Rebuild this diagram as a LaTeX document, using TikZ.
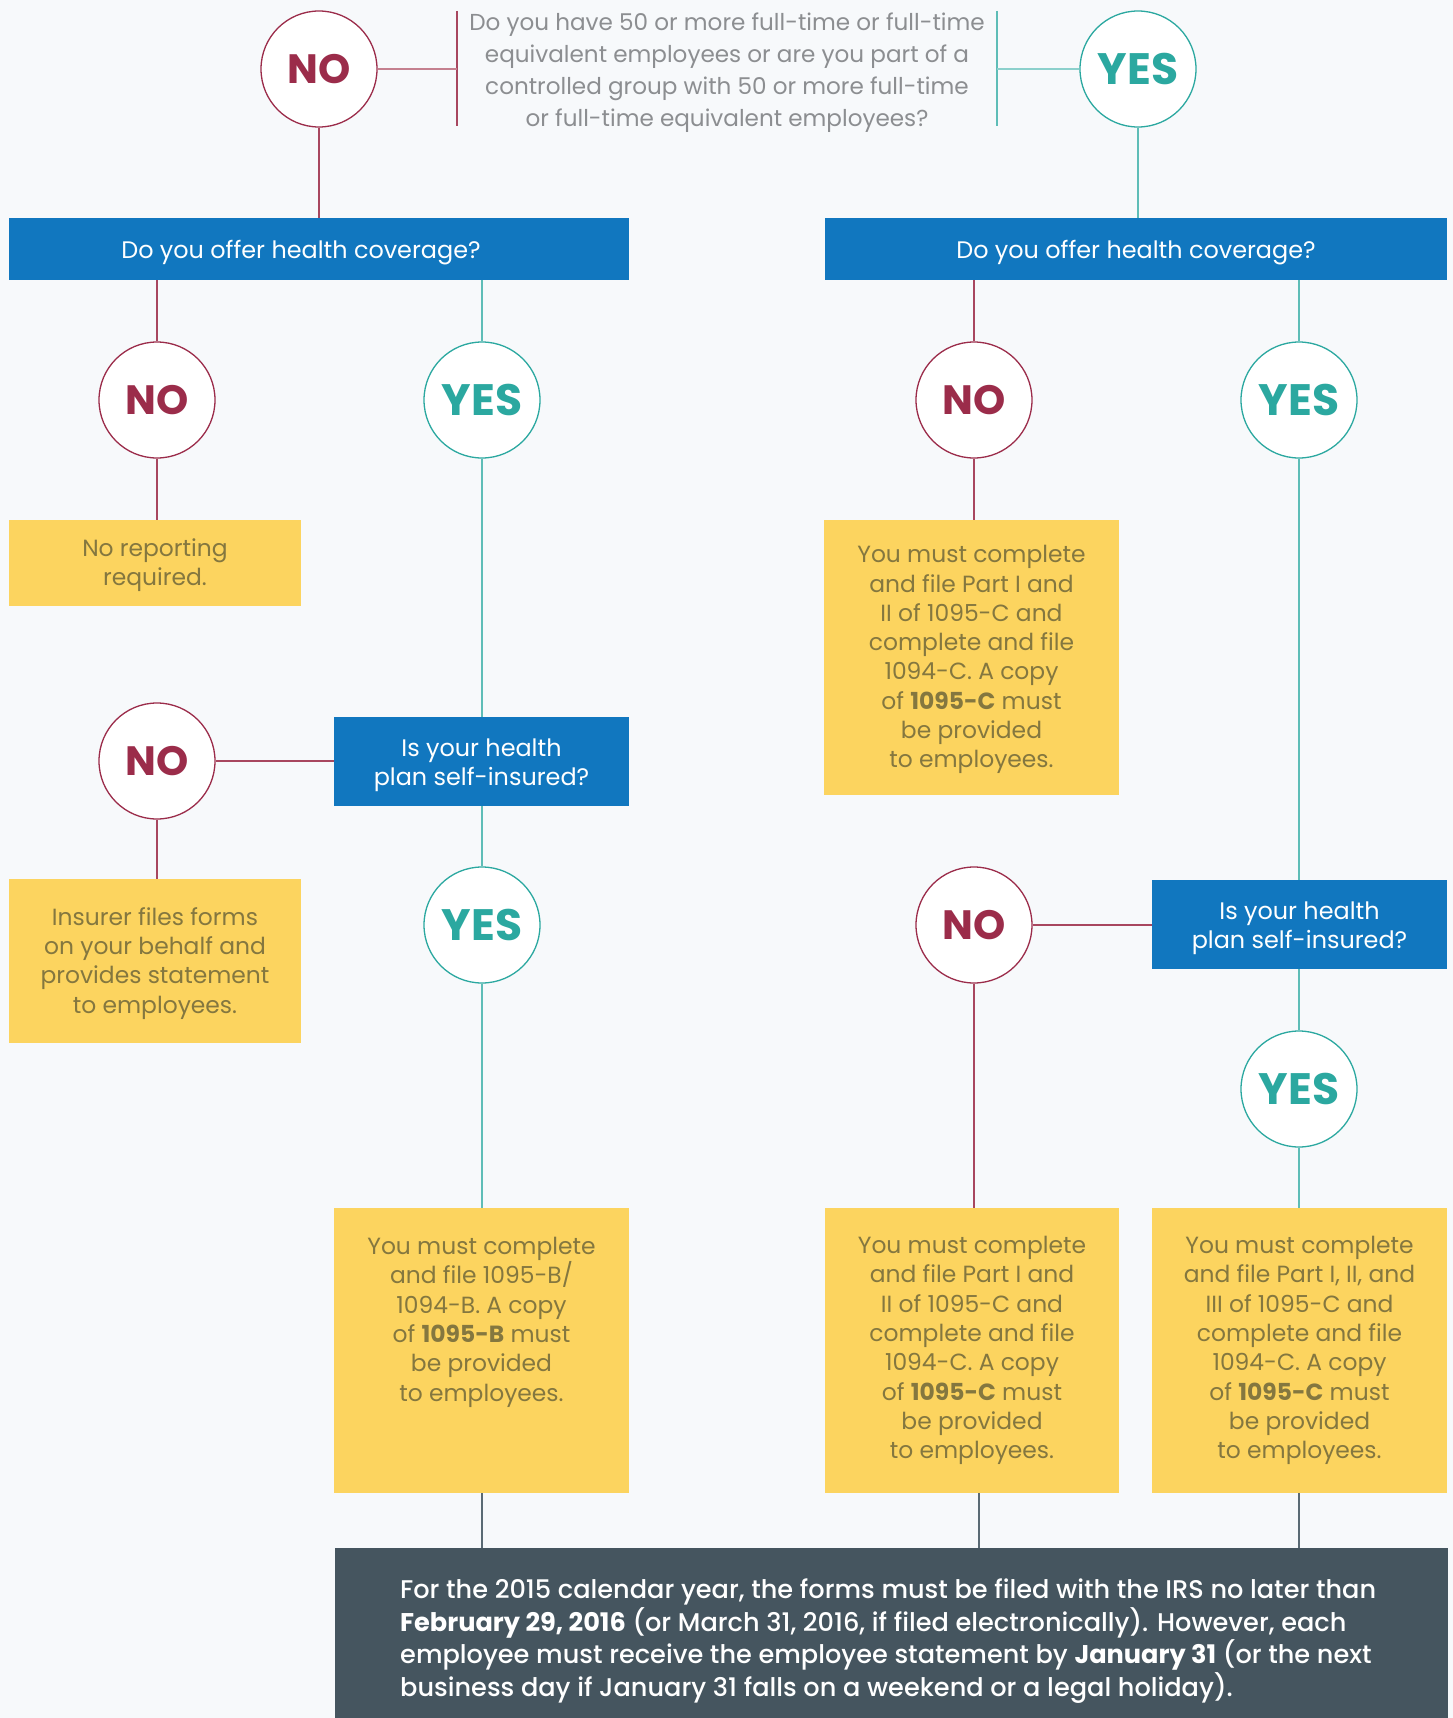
\documentclass[tikz,border=0pt]{standalone}
\usepackage{fontspec}
\setmainfont{Poppins}
\IfFontExistsTF{Poppins Medium}{\newfontfamily\medfont{Poppins Medium}}{\newfontfamily\medfont{Poppins}}
\newcommand\dbold[1]{{\rmfamily\bfseries #1}}
\usetikzlibrary{calc}
\definecolor{bgc}{HTML}{F7F9FB}
\definecolor{nored}{HTML}{9B2C4A}
\definecolor{noline}{HTML}{A8475F}
\definecolor{nolight}{HTML}{C4808F}
\definecolor{yesteal}{HTML}{2BA8A0}
\definecolor{yesline}{HTML}{5EBDB7}
\definecolor{yeslight}{HTML}{8CD0CC}
\definecolor{bluec}{HTML}{1177BF}
\definecolor{yelc}{HTML}{FCD45F}
\definecolor{yeltext}{HTML}{84773F}
\definecolor{qgray}{HTML}{8C8E91}
\definecolor{darkc}{HTML}{45555F}
\definecolor{grayline}{HTML}{5A6A74}
\begin{document}
\begin{tikzpicture}[x=1pt,y=-1pt,
  circ/.style={circle, fill=white, minimum size=116pt, inner sep=0pt, line width=1.3pt},
  nocirc/.style={circ, draw=nored, text=nored, font=\fontsize{41}{41}\selectfont\bfseries},
  yescirc/.style={circ, draw=yesteal, text=yesteal, font=\fontsize{44}{44}\selectfont\bfseries},
  bluebox/.style={rectangle, fill=bluec, inner sep=0pt},
  bluetxt/.style={text=white, inner sep=0pt, align=center, yshift=-3.5pt,
    font=\fontsize{23.9}{29}\selectfont},
  yelbox/.style={rectangle, fill=yelc, inner sep=0pt},
  yeltxt/.style={text=yeltext, inner sep=0pt, align=center, yshift=-2.2pt,
    font=\fontsize{23.4}{29.3}\selectfont},
  nol/.style={draw=noline, line width=1.3pt},
  yesl/.style={draw=yesline, line width=1.3pt},
  grl/.style={draw=grayline, line width=1.1pt}]
\fill[bgc] (0,0) rectangle (1453,1718);
\useasboundingbox (0,0) rectangle (1453,1718);

% top question
\node[nocirc] (q1no) at (319,69) {NO};
\node[yescirc] (q1yes) at (1138,69) {YES};
\node[text=qgray, align=center, font=\fontsize{23.1}{32}\selectfont] (qtext) at (727,72.5)
  {Do you have 50 or more full-time or full-time\\
   equivalent employees or are you part of a\\
   controlled group with 50 or more full-time\\
   or full-time equivalent employees?};
\coordinate (qLt) at (457,11); \coordinate (qLb) at (457,126); \coordinate (qL) at (457,69);
\coordinate (qRt) at (997,11); \coordinate (qRb) at (997,126); \coordinate (qR) at (997,69);
\draw[nol] (qLt) -- (qLb);
\draw[yesl] (qRt) -- (qRb);
\draw[draw=nolight, line width=2pt] (q1no) -- (qL);
\draw[draw=yeslight, line width=2pt] (qR) -- (q1yes);

% blue boxes row 1
\node[bluebox, minimum width=620pt, minimum height=62pt] (bluel) at (319,249) {};
\node[bluetxt] (bluelt) at (301,249) {Do you offer health coverage?};
\node[bluebox, minimum width=622pt, minimum height=62pt] (bluer) at (1136,249) {};
\node[bluetxt] (bluert) at (bluer.center) {Do you offer health coverage?};
\draw[nol] (q1no) -- (q1no |- bluel.north);
\draw[yesl] (q1yes) -- (q1yes |- bluer.north);

% row 2 circles
\node[nocirc] (no2l) at (157,400) {NO};
\node[yescirc] (yes2l) at (482,400) {YES};
\node[nocirc] (no2r) at (974,400) {NO};
\node[yescirc] (yes2r) at (1299,400) {YES};
\draw[nol] (no2l |- bluel.south) -- (no2l);
\draw[yesl] (yes2l |- bluel.south) -- (yes2l);
\draw[nol] (no2r |- bluer.south) -- (no2r);
\draw[yesl] (yes2r |- bluer.south) -- (yes2r);

% results row 2
\node[yelbox, minimum width=292pt, minimum height=86pt] (yel1) at (155,563) {};
\node[yeltxt] (yel1t) at (yel1.center) {No reporting\\ required.};
\node[yelbox, minimum width=295pt, minimum height=275pt] (yelR1) at (971.5,657.5) {};
\node[yeltxt] (yelR1t) at (yelR1.center)
  {You must complete\\ and file Part I and\\ II of 1095-C and\\ complete and file\\
   1094-C. A copy\\ of \textbf{1095-C} must\\ be provided\\ to employees.};
\draw[nol] (no2l) -- (no2l |- yel1.north);
\draw[nol] (no2r) -- (no2r |- yelR1.north);

% self-insured questions
\node[bluebox, minimum width=295pt, minimum height=89pt] (bluel2) at (481.5,761.5) {};
\node[bluetxt] (bluel2t) at (bluel2.center) {Is your health\\ plan self-insured?};
\node[bluebox, minimum width=295pt, minimum height=89pt] (bluer2) at (1299.5,924.5) {};
\node[bluetxt] (bluer2t) at (bluer2.center) {Is your health\\ plan self-insured?};
\draw[yesl] (yes2l) -- (yes2l |- bluel2.north);
\draw[yesl] (yes2r) -- (yes2r |- bluer2.north);

\node[nocirc] (no3l) at (157,761) {NO};
\node[yescirc] (yes3l) at (482,925) {YES};
\node[nocirc] (no3r) at (974,925) {NO};
\node[yescirc] (yes4r) at (1299,1089) {YES};
\draw[nol] (no3l) -- (no3l -| bluel2.west);
\draw[nol] (no3r) -- (no3r -| bluer2.west);
\draw[yesl] (yes3l |- bluel2.south) -- (yes3l);
\draw[yesl] (yes4r |- bluer2.south) -- (yes4r);

\node[yelbox, minimum width=292pt, minimum height=164pt] (yel2) at (155,961) {};
\node[yeltxt] (yel2t) at (yel2.center)
  {Insurer files forms\\ on your behalf and\\ provides statement\\ to employees.};
\draw[nol] (no3l) -- (no3l |- yel2.north);

% bottom results
\node[yelbox, minimum width=295pt, minimum height=285pt] (yelB1) at (481.5,1350.5) {};
\node[yeltxt, yshift=2.2pt] (yelB1t) at (481.5,1348.5)
  {You must complete\\ and file 1095-B/\\ 1094-B. A copy\\ of \textbf{1095-B} must\\ be provided\\ to employees.\\ ~\\ ~};
\node[yelbox, minimum width=294pt, minimum height=285pt] (yelB2) at (972,1350.5) {};
\node[yeltxt, yshift=2.2pt] (yelB2t) at (yelB2.center)
  {You must complete\\ and file Part I and\\ II of 1095-C and\\ complete and file\\
   1094-C. A copy\\ of \textbf{1095-C} must\\ be provided\\ to employees.};
\node[yelbox, minimum width=295pt, minimum height=285pt] (yelB3) at (1299.5,1350.5) {};
\node[yeltxt, yshift=2.2pt] (yelB3t) at (yelB3.center)
  {You must complete\\ and file Part I, II, and\\ III of 1095-C and\\ complete and file\\
   1094-C. A copy\\ of \textbf{1095-C} must\\ be provided\\ to employees.};
\draw[yesl] (yes3l) -- (yes3l |- yelB1.north);
\draw[nol] (no3r) -- (no3r |- yelB2.north);
\draw[yesl] (yes4r) -- (yes4r |- yelB3.north);

% footer
\node[rectangle, fill=darkc, minimum width=1113pt, minimum height=170pt, inner sep=0pt] (dark) at (891.5,1633) {};
\node[anchor=north west, text=white, align=left, inner sep=0pt,
  font=\fontsize{25.6}{32.5}\medfont] (darktext) at (400,1579)
  {For the 2015 calendar year, the forms must be filed with the IRS no later than\\
   \dbold{February 29, 2016} (or March 31, 2016, if filed electronically). However, each\\
   employee must receive the employee statement by \dbold{January 31} (or the next\\
   business day if January 31 falls on a weekend or a legal holiday).};
\coordinate (dB1) at (482,1493); \coordinate (dB2) at (979,1493); \coordinate (dB3) at (1299,1493);
\draw[grl] (dB1) -- (dB1 |- dark.north);
\draw[grl] (dB2) -- (dB2 |- dark.north);
\draw[grl] (dB3) -- (dB3 |- dark.north);
\end{tikzpicture}
\end{document}
